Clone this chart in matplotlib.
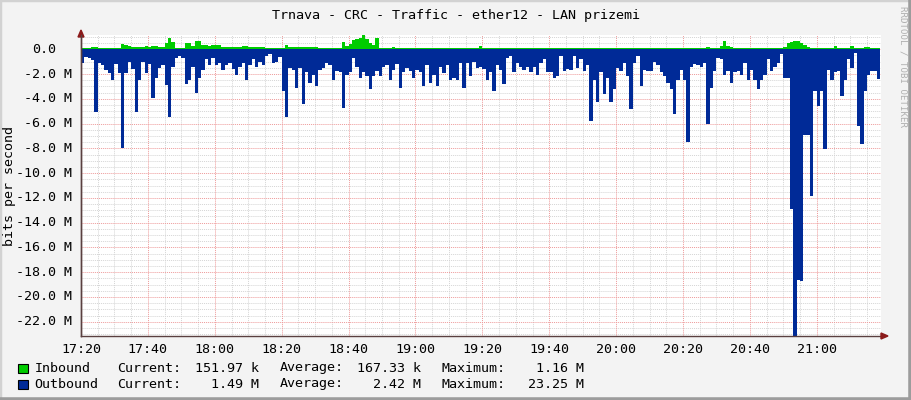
import numpy as np
import matplotlib
matplotlib.use("Agg")
import matplotlib.pyplot as plt
from matplotlib.patches import Rectangle
from matplotlib.lines import Line2D
from matplotlib.transforms import blended_transform_factory

# traffic in Mbit/s, one value per minute starting at 17:20
inbound = [
    0.12, 0.08, 0.08, 0.2, 0.2, 0.12, 0.08, 0.08, 0.08, 0.08,
    0.08, 0.12, 0.4, 0.35, 0.25, 0.2, 0.2, 0.2, 0.2, 0.25,
    0.2, 0.25, 0.3, 0.2, 0.15, 0.5, 0.92, 0.6, 0.12, 0.1,
    0.1, 0.5, 0.5, 0.3, 0.68, 0.68, 0.33, 0.33, 0.3, 0.33,
    0.33, 0.33, 0.15, 0.2, 0.2, 0.2, 0.2, 0.2, 0.28, 0.28,
    0.15, 0.15, 0.15, 0.15, 0.15, 0.1, 0.1, 0.1, 0.1, 0.1,
    0.1, 0.33, 0.2, 0.2, 0.2, 0.2, 0.2, 0.2, 0.2, 0.2,
    0.2, 0.14, 0.14, 0.14, 0.1, 0.1, 0.14, 0.14, 0.62, 0.3,
    0.4, 0.78, 0.82, 0.88, 1.16, 0.82, 0.5, 0.33, 0.88, 0.12,
    0.1, 0.1, 0.12, 0.17, 0.1, 0.1, 0.1, 0.1, 0.1, 0.1,
    0.1, 0.14, 0.1, 0.1, 0.1, 0.1, 0.14, 0.1, 0.1, 0.1,
    0.1, 0.1, 0.1, 0.1, 0.12, 0.1, 0.1, 0.1, 0.1, 0.25,
    0.12, 0.1, 0.1, 0.1, 0.1, 0.1, 0.12, 0.1, 0.1, 0.1,
    0.1, 0.1, 0.1, 0.1, 0.1, 0.1, 0.12, 0.1, 0.1, 0.1,
    0.1, 0.1, 0.1, 0.1, 0.12, 0.1, 0.1, 0.1, 0.1, 0.1,
    0.1, 0.1, 0.14, 0.14, 0.1, 0.1, 0.1, 0.1, 0.14, 0.14,
    0.1, 0.1, 0.1, 0.1, 0.1, 0.1, 0.1, 0.12, 0.1, 0.1,
    0.1, 0.1, 0.1, 0.1, 0.1, 0.1, 0.14, 0.1, 0.1, 0.1,
    0.1, 0.1, 0.1, 0.1, 0.1, 0.1, 0.1, 0.2, 0.1, 0.1,
    0.1, 0.3, 0.7, 0.3, 0.2, 0.1, 0.1, 0.1, 0.1, 0.1,
    0.1, 0.14, 0.14, 0.14, 0.14, 0.1, 0.1, 0.1, 0.1, 0.1,
    0.2, 0.5, 0.6, 0.68, 0.63, 0.5, 0.33, 0.2, 0.1, 0.1,
    0.1, 0.1, 0.1, 0.1, 0.1, 0.25, 0.12, 0.1, 0.1, 0.1,
    0.28, 0.1, 0.1, 0.1, 0.2, 0.2, 0.1, 0.1, 0.12, 0.12,
]

outbound = [
    1.1, 0.6, 0.7, 0.9, 5.05, 1.1, 1.3, 1.7, 1.9, 2.45,
    1.2, 1.9, 7.95, 1.9, 1.0, 1.6, 5.05, 2.45, 1.0, 1.9,
    1.2, 3.9, 2.35, 1.5, 1.3, 2.9, 5.45, 1.4, 0.7, 0.55,
    0.7, 2.8, 2.5, 1.4, 3.5, 2.35, 1.7, 0.8, 1.25, 0.7,
    1.25, 1.1, 1.7, 1.25, 1.1, 1.6, 2.05, 1.4, 1.1, 2.5,
    1.25, 0.8, 1.4, 1.0, 1.3, 0.55, 0.35, 1.1, 1.0, 0.6,
    3.4, 5.45, 1.5, 1.7, 3.1, 1.5, 4.45, 1.85, 2.7, 2.05,
    3.0, 1.7, 1.5, 1.1, 1.25, 2.5, 1.75, 1.85, 4.75, 2.05,
    1.85, 0.7, 1.4, 2.35, 1.85, 2.15, 3.2, 2.15, 1.75, 2.15,
    1.4, 1.25, 2.45, 1.7, 1.2, 3.1, 1.85, 1.5, 1.75, 2.35,
    1.7, 1.85, 3.0, 1.3, 2.7, 2.05, 3.0, 1.4, 1.95, 1.3,
    2.5, 2.35, 2.45, 1.1, 3.1, 1.1, 2.15, 1.0, 1.5, 1.4,
    1.6, 2.5, 1.85, 3.4, 1.25, 1.7, 2.8, 0.7, 0.55, 1.85,
    1.1, 1.4, 1.7, 1.4, 1.85, 1.45, 2.05, 1.1, 0.8, 1.85,
    1.85, 2.35, 2.15, 0.55, 1.75, 1.6, 1.7, 0.55, 1.5, 0.8,
    1.75, 1.25, 5.8, 2.45, 4.25, 1.85, 3.65, 2.35, 4.25, 3.2,
    1.5, 1.75, 1.1, 2.15, 4.85, 1.1, 0.55, 3.0, 1.7, 1.75,
    1.75, 1.0, 1.3, 1.85, 2.15, 2.7, 3.2, 5.25, 2.45, 1.7,
    2.45, 7.5, 1.4, 1.2, 1.3, 1.4, 1.1, 6.05, 3.1, 1.75,
    0.7, 0.8, 2.05, 1.75, 2.7, 1.85, 1.75, 2.05, 1.1, 2.45,
    1.7, 2.5, 3.2, 2.5, 2.05, 0.8, 1.75, 1.4, 1.1, 0.4,
    2.35, 2.35, 12.9, 23.25, 18.6, 18.7, 6.9, 6.9, 11.85, 3.4,
    4.55, 3.4, 8.05, 1.7, 2.45, 1.85, 1.75, 3.8, 2.45, 0.8,
    1.5, 0.3, 6.2, 7.65, 3.4, 2.05, 1.75, 1.75, 2.4, 2.4,
]

time_labels = ["17:20", "17:40", "18:00", "18:20", "18:40", "19:00",
               "19:20", "19:40", "20:00", "20:20", "20:40", "21:00"]
y_values = [0, -2, -4, -6, -8, -10, -12, -14, -16, -18, -20, -22]
y_labels = ["0.0", "-2.0 M", "-4.0 M", "-6.0 M", "-8.0 M", "-10.0 M", "-12.0 M",
            "-14.0 M", "-16.0 M", "-18.0 M", "-20.0 M", "-22.0 M"]

legend_rows = [
    ("Inbound", "#00CC00", "151.97 k", "167.33 k", "1.16 M"),
    ("Outbound", "#002A97", "1.49 M", "2.42 M", "23.25 M"),
]

W, H = 911, 400
FONT = "DejaVu Sans Mono"
FS = 9.6
BG = "#F3F3F3"

fig = plt.figure(figsize=(W / 100, H / 100), dpi=100, facecolor=BG)


def fx(x):
    return x / W


def fy(y):
    return 1 - y / H


# plot area in pixels: x 81..881, y 35..336
ax = fig.add_axes([fx(81), fy(336), 800 / W, 301 / H])
ax.set_facecolor("white")

minutes = np.arange(len(outbound))
ax.fill_between(minutes, 0, -np.array(outbound), step="post",
                color="#002A97", lw=0)
ax.fill_between(minutes, 0, np.array(inbound), step="post",
                color="#00CC00", lw=0)

ax.set_xlim(0, 239.2)
ax.set_ylim(-23.15, 1.15)

# grid: minor grey, major red, both dotted
for m in np.arange(0, 240, 5):
    if m % 20:
        ax.axvline(m, color="#D5D5D5", lw=0.7, ls=(0, (1, 1)), zorder=0)
for v in np.arange(-23.0, 1.01, 0.5):
    if v % 2:
        ax.axhline(v, color="#D5D5D5", lw=0.7, ls=(0, (1, 1)), zorder=0)
for m in np.arange(0, 240, 20):
    ax.axvline(m, color="#EE9A9A", lw=0.7, ls=(0, (1, 1)), zorder=0.5)
for v in y_values:
    ax.axhline(v, color="#EE9A9A", lw=0.7, ls=(0, (1, 1)), zorder=0.5)

for side in ("top", "right"):
    ax.spines[side].set_visible(False)
for side in ("left", "bottom"):
    ax.spines[side].set_color("#5A4040")
    ax.spines[side].set_linewidth(1.0)
    ax.spines[side].set_zorder(5)

ax.set_xticks(np.arange(0, 240, 20))
ax.set_xticklabels(time_labels, fontfamily=FONT, fontsize=FS)
ax.set_yticks(y_values)
ax.set_yticklabels([])
ax.tick_params(length=0, pad=5)

# y labels right-aligned in monospace ("0.0" padded like rrdtool)
ylab_tr = blended_transform_factory(fig.transFigure, ax.transData)
for v, lab in zip(y_values, y_labels):
    xr = 72 if lab.endswith("M") else 56.5
    ax.text(fx(xr), v, lab, transform=ylab_tr, ha="right", va="center",
            fontfamily=FONT, fontsize=FS)

# axis arrows
fig.add_artist(Line2D([fx(81), fx(81)], [fy(336), fy(35)], color="#5A4040", lw=1.0))
fig.patches.append(plt.Polygon([[fx(78), fy(37)], [fx(84), fy(37)], [fx(81), fy(30)]],
                               closed=True, transform=fig.transFigure,
                               color="#8B1A1A", figure=fig))
fig.patches.append(plt.Polygon([[fx(881), fy(333)], [fx(881), fy(339)], [fx(888), fy(336)]],
                               closed=True, transform=fig.transFigure,
                               color="#8B1A1A", figure=fig))

fig.text(0.5, fy(15), "Trnava - CRC - Traffic - ether12 - LAN prizemi",
         ha="center", va="center", fontfamily=FONT, fontsize=FS)
fig.text(fx(10), fy(186), "bits per second", rotation=90, ha="center",
         va="center", fontfamily=FONT, fontsize=FS)
fig.text(fx(903), fy(6), "RRDTOOL / TOBI OETIKER", rotation=270, ha="center",
         va="top", fontfamily=FONT, fontsize=6.6, color="#B0B0B0")

# legend
for i, (name, col, cur, avg, mx) in enumerate(legend_rows):
    yc = 368 + 16 * i
    fig.patches.append(Rectangle((fx(17.5), fy(yc + 4.5)), 10 / W, 9 / H,
                                 transform=fig.transFigure, facecolor=col,
                                 edgecolor="black", lw=0.8, figure=fig))
    kw = dict(va="center", fontfamily=FONT, fontsize=FS)
    fig.text(fx(34.3), fy(yc), name, ha="left", **kw)
    fig.text(fx(116.7), fy(yc), "Current:", ha="left", **kw)
    fig.text(fx(258.8), fy(yc), cur, ha="right", **kw)
    fig.text(fx(279.3), fy(yc), "Average:", ha="left", **kw)
    fig.text(fx(421.3), fy(yc), avg, ha="right", **kw)
    fig.text(fx(441.3), fy(yc), "Maximum:", ha="left", **kw)
    fig.text(fx(583.8), fy(yc), mx, ha="right", **kw)

# 3d-ish frame around the canvas
fig.add_artist(Line2D([0, 0, 1], [0, 1, 1], transform=fig.transFigure,
                      color="#D2D2D2", lw=2.5))
fig.add_artist(Line2D([0, 1, 1], [0, 0, 1], transform=fig.transFigure,
                      color="#9C9C9C", lw=4))

fig.savefig("out.png", dpi=100, facecolor=BG)
